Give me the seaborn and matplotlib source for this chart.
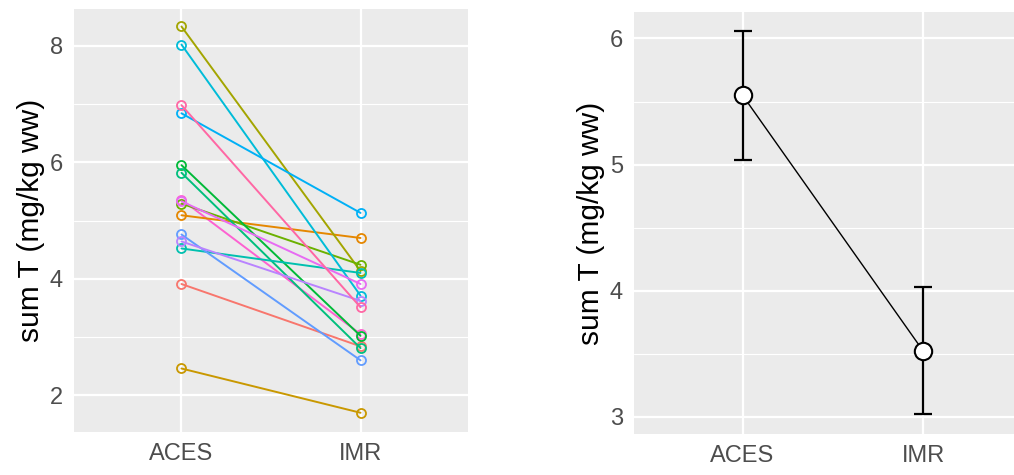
import pandas as pd
import matplotlib.pyplot as plt
import seaborn as sns
from matplotlib.ticker import MultipleLocator

# values (15 subjects, paired)
groups = ['ACES', 'IMR']
subjects = [str(i) for i in range(1, 16)]
aces_vals = [3.91, 5.09, 2.46, 8.33, 5.29, 5.95, 5.82, 4.52, 8.02, 6.84, 4.76, 4.64, 5.33, 5.36, 6.98]
imr_vals = [2.84, 4.70, 1.70, 4.13, 4.24, 3.02, 2.81, 4.10, 3.71, 5.13, 2.60, 3.62, 3.91, 3.05, 3.51]

# ggplot default hue palette for 15 levels
hue_colors = ['#F8766D', '#E58700', '#C99800', '#A3A500', '#6BB100', '#00BA38', '#00BF7D',
              '#00C0AF', '#00BCD8', '#00B0F6', '#619CFF', '#B983FF', '#E76BF3', '#FD61D1', '#FF67A4']

# group means with their intervals (right panel)
mean_vals = [5.55, 3.52]
lower_vals = [5.04, 3.02]
upper_vals = [6.06, 4.03]

sns.set_theme(style='darkgrid')
plt.rcParams['font.family'] = ['Liberation Sans', 'DejaVu Sans']

df = pd.DataFrame({
    'subject': subjects * 2,
    'group': ['ACES'] * len(subjects) + ['IMR'] * len(subjects),
    'value': aces_vals + imr_vals,
})
pal = dict(zip(subjects, hue_colors))
# subject 14 sits under the green marker at IMR, so draw it first
draw_order = ['14'] + [s for s in subjects if s != '14']

fig = plt.figure(figsize=(10.14, 4.75), dpi=100)
ax1 = fig.add_axes([74 / 1014, 1 - 432 / 475, 394 / 1014, 423 / 475])
ax2 = fig.add_axes([634 / 1014, 1 - 434 / 475, 398 / 1014, 422 / 475])

bg = '#EBEBEB'
tick_col = '#4D4D4D'


def style_axis(ax):
    ax.set_facecolor(bg)
    for s in ax.spines.values():
        s.set_visible(False)
    ax.grid(which='major', color='white', linewidth=1.6)
    ax.grid(which='minor', axis='y', color='white', linewidth=0.8)
    ax.tick_params(axis='both', which='major', length=5, width=1.1, color='#333333',
                   labelsize=17, labelcolor=tick_col, pad=3)
    ax.tick_params(axis='y', which='minor', length=0)
    ax.set_xlabel('')
    ax.set_ylabel('sum T (mg/kg ww)', fontsize=21.5, color='black', labelpad=3)
    ax.set_axisbelow(True)


# left: paired lines per subject
sns.lineplot(data=df, x='group', y='value', hue='subject', palette=pal,
             hue_order=draw_order, marker='o', markersize=6.5, markerfacecolor='none',
             linewidth=1.4, ax=ax1, legend=False, sort=False)
for ln in ax1.lines:
    ln.set_markeredgecolor(ln.get_color())
    ln.set_markeredgewidth(1.3)
ax1.set_xlim(-0.6, 1.6)
ax1.set_ylim(1.37, 8.63)
ax1.yaxis.set_major_locator(MultipleLocator(2))
ax1.yaxis.set_minor_locator(MultipleLocator(1))
style_axis(ax1)

# right: means with intervals
yerr = [[m - lo for m, lo in zip(mean_vals, lower_vals)],
        [hi - m for m, hi in zip(mean_vals, upper_vals)]]
ax2.errorbar(groups, mean_vals, yerr=yerr, fmt='none', ecolor='black',
             elinewidth=1.6, capsize=6.5, capthick=1.6, zorder=3)
sns.lineplot(x=groups, y=mean_vals, color='black', linewidth=1.0, marker='o',
             markersize=12.5, markerfacecolor='white', markeredgecolor='black',
             markeredgewidth=1.5, ax=ax2, sort=False, zorder=4)
ax2.set_xlim(-0.6, 1.6)
ax2.set_ylim(2.865, 6.21)
ax2.yaxis.set_major_locator(MultipleLocator(1))
ax2.yaxis.set_minor_locator(MultipleLocator(0.5))
style_axis(ax2)

fig.savefig('out.png', dpi=100)
